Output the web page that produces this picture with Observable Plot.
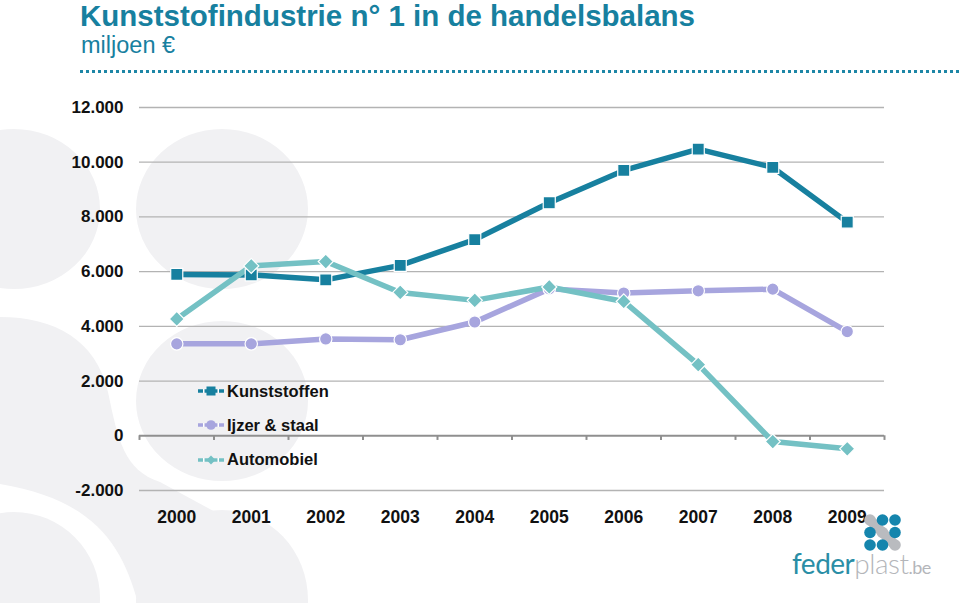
<!DOCTYPE html>
<html>
<head>
<meta charset="utf-8">
<script src="https://cdn.jsdelivr.net/npm/d3@7"></script>
<script src="https://cdn.jsdelivr.net/npm/@observablehq/plot@0.6"></script>
<style>
  html, body { margin: 0; padding: 0; background: #fff; }
  body { width: 959px; height: 603px; position: relative; overflow: hidden; font-family: "Liberation Sans", Arial, sans-serif; }
  #bgart { position: absolute; left: 0; top: 0; }
  #title { position: absolute; left: 80px; top: 1px; line-height: 1; font-size: 29.5px; font-weight: bold; color: #17809f; white-space: nowrap; }
  #subtitle { position: absolute; left: 81px; top: 32px; font-size: 23.5px; color: #17809f; }
  #dots { position: absolute; left: 80px; top: 70px; width: 879px; border-top: 3px dotted #1d86a6; }
  #chart { position: absolute; left: 0; top: 80px; }
  #legend { position: absolute; left: 198px; top: 374px; font-weight: bold; font-size: 16.5px; color: #111; }
  #legend .item { display: flex; align-items: center; height: 34.3px; }
  #legend svg { margin-right: 3px; }
  #logo { position: absolute; left: 792px; top: 510px; width: 140px; height: 80px; }
  #logo .word { position: absolute; left: 0; top: 36px; font-family: "Lato", sans-serif; font-size: 28px; white-space: nowrap; letter-spacing: -0.5px; }
</style>
</head>
<body>
<svg id="bgart" width="959" height="603">
  <g fill="#f1f1f3">
    <ellipse cx="14" cy="209" rx="86" ry="80"/>
    <ellipse cx="222" cy="209" rx="86" ry="80"/>
    <ellipse cx="222" cy="401" rx="86" ry="80"/>
    <ellipse cx="14" cy="598" rx="86" ry="86"/>
    <ellipse cx="222" cy="600" rx="86" ry="90"/>
    <path d="M0,317 C55,317 96,340 108,392 C118,440 124,470 160,482 L230,520 L150,603 L138,603 C122,545 95,500 0,484 Z"/>
  </g>
</svg>

<div id="title">Kunststofindustrie n° 1 in de handelsbalans</div>
<div id="subtitle">miljoen €</div>
<div id="dots"></div>
<div id="chart"></div>
<div id="legend"></div>
<div id="logo"></div>

<script>
const years = [2000, 2001, 2002, 2003, 2004, 2005, 2006, 2007, 2008, 2009];
const kunststoffen = [5900, 5880, 5700, 6230, 7170, 8520, 9700, 10480, 9810, 7810];
const ijzerStaal   = [3360, 3360, 3540, 3510, 4160, 5370, 5220, 5300, 5360, 3810];
const automobiel   = [4270, 6210, 6370, 5240, 4950, 5440, 4910, 2600, -210, -475];
const seriesNames  = ["Kunststoffen", "Ijzer & staal", "Automobiel"];
const seriesColors = ["#17809f", "#a7a5de", "#74c1c4"];
const seriesSymbols = ["square", "circle", "diamond2"];
const yTicks = [-2000, 0, 2000, 4000, 6000, 8000, 10000, 12000];

const valuesBySeries = [kunststoffen, ijzerStaal, automobiel];
const rows = seriesNames.flatMap((name, i) =>
  years.map((year, j) => ({series: name, year, value: valuesBySeries[i][j]})));
const boundaries = [...years.map(y => y - 0.5), years[years.length - 1] + 0.5];

const fmt = d => d3.format(",")(d).replace(/,/g, ".").replace("−", "-");

const marks = [
  Plot.ruleY(yTicks.filter(d => d !== 0), {stroke: "#b3b3b3", strokeWidth: 1.3}),
  Plot.ruleY([0], {stroke: "#8f8f8f", strokeWidth: 2}),
  Plot.ruleX(boundaries, {x: d => d, y1: 0, y2: -170, stroke: "#8f8f8f", strokeWidth: 2}),
  Plot.axisY(yTicks, {tickSize: 0, tickPadding: 16, tickFormat: fmt, fontSize: 17, fontWeight: "bold", fill: "#111", label: null}),
  Plot.axisX(years, {tickSize: 0, tickPadding: 20, tickFormat: d => String(d), fontSize: 17.5, fontWeight: "bold", fill: "#111", label: null})
];
seriesNames.forEach((name, i) => {
  const data = rows.filter(r => r.series === name);
  marks.push(Plot.line(data, {x: "year", y: "value", stroke: seriesColors[i], strokeWidth: 5.5}));
});
seriesNames.forEach((name, i) => {
  const data = rows.filter(r => r.series === name);
  marks.push(Plot.dot(data, {x: "year", y: "value", symbol: () => seriesSymbols[i],
    r: i === 1 ? 6.2 : 6.8, fill: seriesColors[i], stroke: "#fff", strokeWidth: 1.2}));
});

const chart = Plot.plot({
  width: 959,
  height: 455,
  marginLeft: 139,
  marginRight: 75,
  marginTop: 27,
  marginBottom: 45,
  style: {background: "transparent", fontFamily: "'Liberation Sans', Arial, sans-serif", overflow: "visible"},
  x: {type: "linear", domain: [boundaries[0], boundaries[boundaries.length - 1]], axis: null, label: null},
  y: {domain: [-2000, 12000], axis: null, label: null},
  symbol: {type: "identity"},
  marks
});
document.getElementById("chart").appendChild(chart);

// legend
const legend = document.getElementById("legend");
seriesNames.forEach((name, i) => {
  const item = document.createElement("div");
  item.className = "item";
  const sym = seriesSymbols[i];
  let shape;
  if (sym === "square") shape = `<rect x="8.5" y="3.5" width="9" height="9" fill="${seriesColors[i]}"/>`;
  else if (sym === "circle") shape = `<circle cx="13" cy="8" r="4.8" fill="${seriesColors[i]}"/>`;
  else shape = `<path d="M13 3.5 L17.5 8 L13 12.5 L8.5 8 Z" fill="${seriesColors[i]}"/>`;
  item.innerHTML = `<svg width="26" height="16"><line x1="0" y1="8" x2="26" y2="8" stroke="${seriesColors[i]}" stroke-width="3.5"/>` +
    `<line x1="5" y1="8" x2="6.5" y2="8" stroke="#fff" stroke-width="4"/><line x1="19.5" y1="8" x2="21" y2="8" stroke="#fff" stroke-width="4"/>${shape}</svg><span>${name}</span>`;
  legend.appendChild(item);
});

// logo
const logo = document.getElementById("logo");
const grid = [[0,0,"#b9bbbf"],[1,0,"#1585ad"],[2,0,"#1585ad"],[0,1,"#1585ad"],[1,1,"#b9bbbf"],[2,1,"#1585ad"],[0,2,"#1585ad"],[1,2,"#1585ad"],[2,2,"#b9bbbf"]];
logo.innerHTML = `<svg width="60" height="45" style="position:absolute;left:68px;top:0">` +
  `<line x1="10" y1="10" x2="34" y2="34" stroke="#b9bbbf" stroke-width="10" stroke-linecap="round"/>` +
  grid.map(([c, r, col]) => `<circle cx="${10 + c * 12.5}" cy="${10 + r * 12.5}" r="5.8" fill="${col}"/>`).join("") +
  `</svg><div class="word"><span style="color:#2a8ea6">feder</span><span style="color:#b4b6ba;font-weight:300">plast</span><span style="color:#b4b6ba;font-size:18px">.be</span></div>`;
</script>
</body>
</html>
